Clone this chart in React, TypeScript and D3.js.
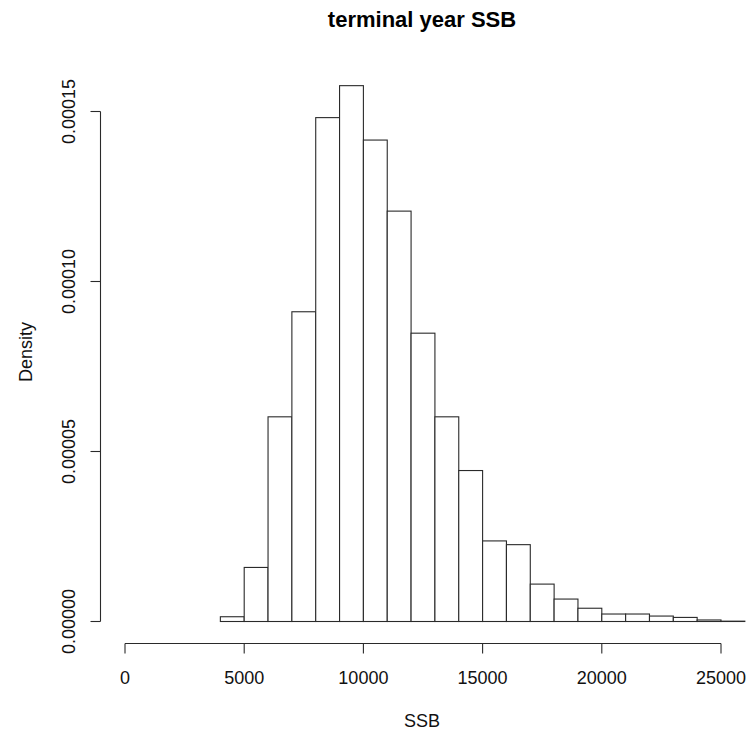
import React from "react";
import * as d3 from "d3";

const breaks = [4000, 5000, 6000, 7000, 8000, 9000, 10000, 11000, 12000, 13000, 14000, 15000, 16000, 17000, 18000, 19000, 20000, 21000, 22000, 23000, 24000, 25000, 26000];
const density = [
  0.0000014, 0.0000159, 0.0000602, 0.0000911, 0.0001482, 0.0001576, 0.0001416, 0.0001207,
  0.0000848, 0.0000602, 0.0000444, 0.0000237, 0.0000226, 0.000011, 0.0000066, 0.0000039,
  0.0000022, 0.0000022, 0.0000016, 0.0000012, 0.00000045, 0.0000001,
];
const xTicks = [0, 5000, 10000, 15000, 20000, 25000];
const yTicks = [0, 0.00005, 0.0001, 0.00015];
const yTickLabels = ["0.00000", "0.00005", "0.00010", "0.00015"];
const title = "terminal year SSB";
const xLabel = "SSB";
const yLabel = "Density";

export default function App() {
  const W = 753;
  const H = 735;
  const x = d3.scaleLinear().domain([0, 25000]).range([125, 721]);
  const y = d3.scaleLinear().domain([0, 0.00015]).range([621.5, 111.5]);
  const font = "'Liberation Sans', Arial, sans-serif";
  const axisY = 643.5;
  const axisX = 100.5;
  const stroke = "#2a2a2a";

  return (
    <svg width={W} height={H} style={{ position: "absolute", left: 0, top: 0, background: "#fff" }} fontFamily={font}>
      <rect x={0} y={0} width={W} height={H} fill="#fff" />
      {density.map((d, i) => (
        <rect
          key={i}
          x={x(breaks[i])}
          y={y(d)}
          width={x(breaks[i + 1]) - x(breaks[i])}
          height={y(0) - y(d)}
          fill="#fff"
          stroke={stroke}
          strokeWidth={1.1}
        />
      ))}
      {/* x axis */}
      <line x1={x(xTicks[0])} x2={x(xTicks[xTicks.length - 1])} y1={axisY} y2={axisY} stroke={stroke} strokeWidth={1.1} />
      {xTicks.map((t) => (
        <g key={t}>
          <line x1={x(t)} x2={x(t)} y1={axisY} y2={axisY + 10} stroke={stroke} strokeWidth={1.1} />
          <text x={x(t)} y={684} textAnchor="middle" fontSize={18} fill="#111">
            {t}
          </text>
        </g>
      ))}
      {/* y axis */}
      <line x1={axisX} x2={axisX} y1={y(yTicks[0])} y2={y(yTicks[yTicks.length - 1])} stroke={stroke} strokeWidth={1.1} />
      {yTicks.map((t, i) => (
        <g key={t}>
          <line x1={axisX - 10} x2={axisX} y1={y(t)} y2={y(t)} stroke={stroke} strokeWidth={1.1} />
          <text
            transform={`translate(75, ${y(t)}) rotate(-90)`}
            textAnchor="middle"
            fontSize={18}
            fill="#111"
          >
            {yTickLabels[i]}
          </text>
        </g>
      ))}
      <text x={422} y={27} textAnchor="middle" fontSize={22} fontWeight="bold" fill="#000">
        {title}
      </text>
      <text x={422} y={727} textAnchor="middle" fontSize={18} fill="#111">
        {xLabel}
      </text>
      <text transform={`translate(31.5, 352) rotate(-90)`} textAnchor="middle" fontSize={18} fill="#111">
        {yLabel}
      </text>
    </svg>
  );
}
